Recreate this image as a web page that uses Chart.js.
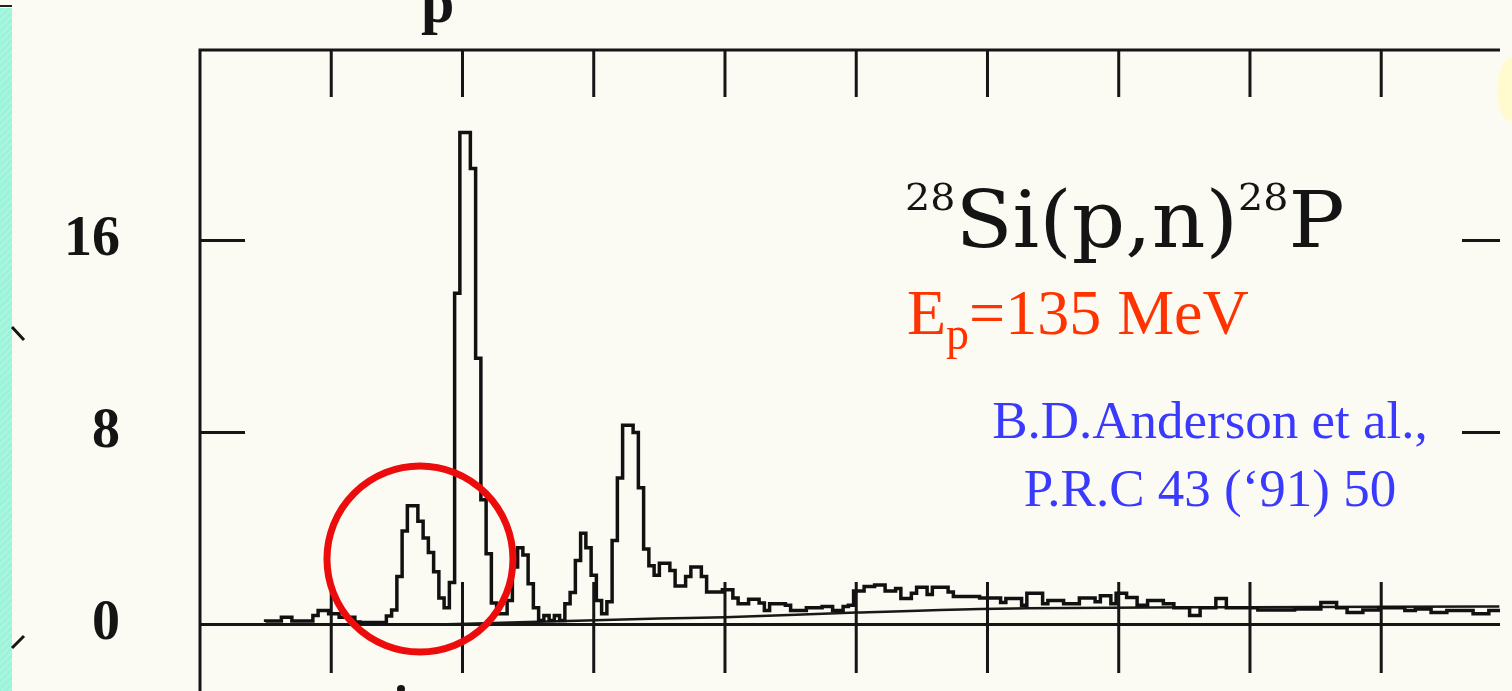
<!DOCTYPE html>
<html>
<head>
<meta charset="utf-8">
<script src="https://cdn.jsdelivr.net/npm/chart.js@4.4.1/dist/chart.umd.min.js"></script>
<style>
  html, body { margin: 0; padding: 0; }
  body { width: 1512px; height: 691px; overflow: hidden; position: relative; background: #fbfbf3; }
  #stripe { position: absolute; left: 0; top: 8px; width: 12px; height: 683px;
            background: repeating-linear-gradient(135deg, #9cf3d8 0 3px, #a9f6e0 3px 5px); }
  #stripeTop { position: absolute; left: 0; top: 5px; width: 12px; height: 2px; background: #222; }
  #glow { position: absolute; left: 1497px; top: 58px; width: 30px; height: 64px; border-radius: 50%; background: #fffbcf; }
  #wrap { position: absolute; left: 0; top: 0; width: 1512px; height: 750px; }
  .txt { position: absolute; white-space: nowrap; }
  #title { left: 905px; top: 181px; font: 78px "DejaVu Serif"; line-height: 78px; color: #141414;
           transform: scaleX(1.07); transform-origin: 0 0; }
  #title .sup { font-size: 37px; position: relative; top: -37px; }
  #energy { left: 907px; top: 281px; font: 64px "Liberation Serif"; line-height: 64px; color: #ff3300; }
  #energy .sub { font-size: 46px; position: relative; top: 15px; }
  #ref { left: 960px; top: 386px; width: 500px; text-align: center; font: 53px "Liberation Serif"; line-height: 68px; color: #3a3aff; }
  #plabel { left: 421px; top: -28px; font: bold 60px "Liberation Serif"; line-height: 60px; color: #141414; }
</style>
</head>
<body>
<div id="stripe"></div>
<div id="stripeTop"></div>
<div id="glow"></div>
<div id="wrap"><canvas id="myChart" width="1512" height="750"></canvas></div>
<div class="txt" id="plabel">p</div>
<div class="txt" id="title"><span class="sup">28</span>Si(p,n)<span class="sup">28</span>P</div>
<div class="txt" id="energy">E<span class="sub">p</span>=135 MeV</div>
<div class="txt" id="ref">B.D.Anderson et al.,<br>P.R.C 43 (‘91) 50</div>
<script>
// axis ticks
const xTicks = [1, 2, 3, 4, 5, 6, 7, 8, 9];
const yTicks = [0, 8, 16];
const yTickMarks = [8, 16];

// histogram: first bin edge and width (x units = one top tick per unit)
const binStart = 0.50;
const binWidth = 0.04;
const counts = [
    0.1, 0.15, 0.15, 0.15, 0.3, 0.3, 0.15, 0.15,
    0.15, 0.15, 0.38, 0.58, 0.58, 0.45, 0.45, 0.3, 0.3, 0.3,
    0.1, 0.08, 0.08, 0.08, 0.08, 0.08, 0.35, 0.6, 2.0, 3.9,
    4.95, 4.95, 4.3, 3.6, 3.0, 2.2, 1.1, 0.7, 1.75, 13.8,
    20.5, 20.5, 19.0, 11.1, 5.2, 2.95, 0.9, 0.45, 0.45, 1.0,
    2.4, 3.2, 2.9, 1.7, 0.7, 0.17, 0.38, 0.17, 0.38, 0.17,
    0.87, 1.33, 2.67, 3.8, 3.2, 2.05, 1.0, 0.45, 0.95, 3.5,
    6.1, 8.3, 8.3, 8.0, 5.7, 3.15, 2.45, 2.05, 2.55, 2.55,
    2.25, 1.6, 1.6, 2.0, 2.4, 2.4, 2.0, 1.35, 1.35, 1.35,
    1.45, 1.45, 1.1, 0.87, 0.87, 1.05, 1.05, 0.9, 0.58, 0.87,
    0.87, 0.87, 0.8, 0.58, 0.58, 0.58, 0.7, 0.7, 0.7, 0.75,
    0.75, 0.58, 0.58, 0.75, 0.8, 1.4, 1.4, 1.58, 1.58, 1.65,
    1.65, 1.4, 1.4, 1.5, 1.08, 1.08, 1.3, 1.55, 1.55, 1.25,
    1.55, 1.55, 1.55, 1.35, 1.17, 1.17, 1.17, 1.17, 1.17, 1.1,
    1.1, 1.1, 1.1, 0.92, 1.08, 1.08, 1.08, 0.8, 1.3, 1.3,
    1.3, 0.87, 1.0, 1.0, 1.0, 0.87, 0.87, 0.87, 1.1, 1.1,
    1.1, 0.95, 1.2, 1.2, 0.87, 1.3, 1.3, 1.13, 1.13, 0.8,
    0.8, 1.0, 1.0, 1.0, 0.87, 0.87, 0.7, 0.7, 0.7, 0.38,
    0.38, 0.7, 0.7, 0.7, 1.08, 1.08, 0.7, 0.7, 0.7, 0.7,
    0.7, 0.7, 0.6, 0.6, 0.6, 0.6, 0.6, 0.6, 0.6, 0.65,
    0.65, 0.65, 0.65, 0.65, 0.92, 0.92, 0.92, 0.7, 0.7, 0.5,
    0.5, 0.5, 0.6, 0.6, 0.6, 0.7, 0.7, 0.7, 0.7, 0.7,
    0.58, 0.58, 0.65, 0.65, 0.65, 0.5, 0.5, 0.5, 0.58, 0.58,
    0.58, 0.58, 0.58, 0.45, 0.45, 0.45, 0.58, 0.58
];

// smooth background line under the spectrum
const bgX = [1.8, 2.5, 3.5, 4.0, 5.0, 6.3, 8.0, 9.9];
const bgY = [0, 0.1, 0.25, 0.3, 0.5, 0.68, 0.72, 0.75];

// red circle round the small peak (centre in data units)
const circleX = 1.676;
const circleY = 2.73;

const tracePts = counts.map((v, i) => ({ x: binStart + i * binWidth, y: v }));
tracePts.push({ x: binStart + counts.length * binWidth, y: counts[counts.length - 1] });

const framePlugin = {
    id: 'frame',
    beforeDatasetsDraw(chart) {
        const { ctx, chartArea: a, scales: { y } } = chart;
        ctx.save();
        ctx.strokeStyle = '#151515';
        // zero line
        ctx.lineWidth = 3;
        const y0 = y.getPixelForValue(0);
        ctx.beginPath();
        ctx.moveTo(a.left, y0);
        ctx.lineTo(a.right, y0);
        ctx.stroke();
        ctx.restore();
    },
    afterDatasetsDraw(chart) {
        const { ctx, chartArea: a, scales: { x, y } } = chart;
        ctx.save();
        ctx.strokeStyle = '#151515';
        ctx.fillStyle = '#151515';
        ctx.lineWidth = 3;
        // left and top border
        ctx.beginPath();
        ctx.moveTo(a.left, chart.height);
        ctx.lineTo(a.left, a.top);
        ctx.lineTo(a.right, a.top);
        ctx.stroke();
        // inward ticks on top, ticks across the zero line
        xTicks.forEach(t => {
            const px = x.getPixelForValue(t);
            ctx.beginPath();
            ctx.moveTo(px, a.top);
            ctx.lineTo(px, a.top + 47);
            ctx.moveTo(px, y.getPixelForValue(1.77));
            ctx.lineTo(px, y.getPixelForValue(-2.02));
            ctx.stroke();
        });
        // y ticks, left and right
        yTickMarks.forEach(t => {
            const py = y.getPixelForValue(t);
            ctx.beginPath();
            ctx.moveTo(a.left, py);
            ctx.lineTo(a.left + 45, py);
            ctx.moveTo(a.right - 38, py);
            ctx.lineTo(a.right, py);
            ctx.stroke();
        });
        // bits of cut-off glyphs at the edges
        ctx.beginPath();
        ctx.moveTo(12, 327);
        ctx.lineTo(24, 340);
        ctx.moveTo(12, 648);
        ctx.lineTo(24, 636);
        ctx.stroke();
        ctx.beginPath();
        ctx.arc(401, 689, 4, 0, Math.PI * 2);
        ctx.fill();
        // red circle
        ctx.strokeStyle = '#ec0c0c';
        ctx.lineWidth = 7;
        ctx.beginPath();
        ctx.arc(x.getPixelForValue(circleX), y.getPixelForValue(circleY), 93, 0, Math.PI * 2);
        ctx.stroke();
        ctx.restore();
    }
};

const ctx = document.getElementById('myChart').getContext('2d');
new Chart(ctx, {
    type: 'line',
    data: {
        datasets: [{
            data: tracePts,
            stepped: 'after',
            borderColor: '#111',
            borderWidth: 3.5,
            pointRadius: 0,
            fill: false
        }, {
            data: bgX.map((v, i) => ({ x: v, y: bgY[i] })),
            borderColor: '#181818',
            borderWidth: 2.5,
            pointRadius: 0,
            fill: false,
            cubicInterpolationMode: 'monotone'
        }]
    },
    options: {
        responsive: false,
        animation: false,
        devicePixelRatio: 1,
        layout: { padding: { top: 50, right: 12, bottom: 40, left: 0 } },
        plugins: { legend: { display: false }, tooltip: { enabled: false } },
        scales: {
            x: { type: 'linear', min: 0, max: 9.905, display: false },
            y: {
                min: -3.5625,
                max: 23.94,
                grid: { display: false, drawTicks: false },
                border: { display: false },
                afterFit: s => { s.width = 200; s.paddingTop = 0; s.paddingBottom = 0; },
                afterBuildTicks: s => { s.ticks = yTicks.map(v => ({ value: v })); },
                ticks: {
                    font: { family: 'Liberation Serif', size: 56, weight: 'bold' },
                    color: '#141414',
                    padding: 80
                }
            }
        }
    },
    plugins: [framePlugin]
});
</script>
</body>
</html>
